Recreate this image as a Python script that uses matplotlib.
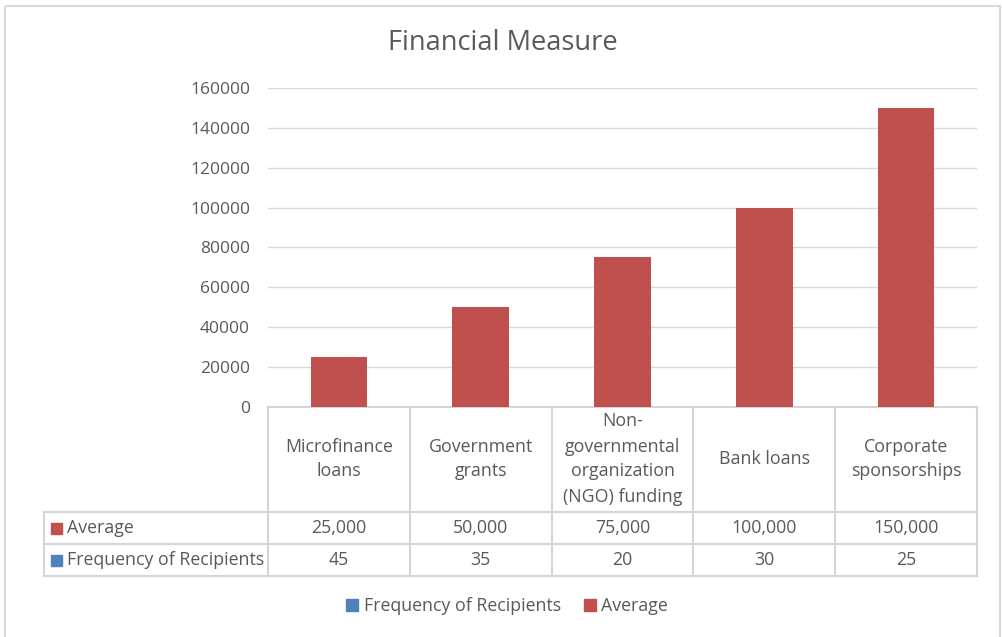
import matplotlib
matplotlib.use("Agg")
import matplotlib.pyplot as plt
from matplotlib.patches import Patch, Rectangle
from matplotlib import transforms

plt.rcParams['font.family'] = ['Open Sans', 'DejaVu Sans']

# ---- data ----
title = "Financial Measure"
categories = ["Microfinance\nloans", "Government\ngrants", "Non-\ngovernmental\norganization\n(NGO) funding",
              "Bank loans", "Corporate\nsponsorships"]
average = [25000, 50000, 75000, 100000, 150000]
frequency = [45, 35, 20, 30, 25]
series_names = ["Average", "Frequency of Recipients"]
yticks = [0, 20000, 40000, 60000, 80000, 100000, 120000, 140000, 160000]

RED = "#c0504d"
BLUE = "#4f81bd"
TXT = "#595959"
GRID = "#d9d9d9"
W, H = 1002, 637
FS = 12.8

fig = plt.figure(figsize=(W / 100, H / 100), dpi=100)

def fr(x0, y0, x1, y1):
    return [x0 / W, 1 - y1 / H, (x1 - x0) / W, (y1 - y0) / H]

# overlay in pixel coordinates
ov = fig.add_axes([0, 0, 1, 1], zorder=0)
ov.set_xlim(0, W)
ov.set_ylim(H, 0)
ov.axis("off")
ov.add_patch(Rectangle((5.5, 5.5), 995, 640, fill=False, edgecolor="#d9d9d9", lw=1.5))

# plot area
L, R, T, B = 268, 977, 88, 407
ax = fig.add_axes(fr(L, T, R, B), zorder=1)
ax.patch.set_alpha(0)
n = len(categories)
x = list(range(n))
ax.bar(x, average, width=0.4, color=RED, zorder=3)
ax.set_xlim(-0.5, n - 0.5)
ax.set_ylim(0, 160000)
ax.set_yticks(yticks)
ax.set_yticklabels([str(v) for v in yticks], fontsize=12.5, color=TXT)
ax.set_xticks([])
ax.tick_params(axis="y", length=0, pad=13)
for s in ax.spines.values():
    s.set_visible(False)
ax.grid(axis="y", color=GRID, lw=1, zorder=0)

# title
ov.text(503, 43, title, ha="center", va="center", fontsize=19.6, color=TXT)

# data table
col_edges = [L + (R - L) * i / n for i in range(n + 1)]
TL = 44
rows_y = [407, 512, 544, 576]
lc = "#d4d4d4"
ov.plot([L, R], [rows_y[0]] * 2, color=lc, lw=1.5)
for yy in rows_y[1:]:
    ov.plot([TL, R], [yy, yy], color=lc, lw=1.5)
for xx in col_edges:
    ov.plot([xx, xx], [rows_y[0], rows_y[-1]], color=lc, lw=1.5)
ov.plot([TL, TL], [rows_y[1], rows_y[-1]], color=lc, lw=1.5)

bt = transforms.blended_transform_factory(ax.transData, ov.transData)
for i, c in enumerate(categories):
    ov.text(i, 459, c, transform=bt, ha="center", va="center", fontsize=FS,
            color=TXT, linespacing=1.5)
    ov.text(i, 528, f"{average[i]:,}", transform=bt, ha="center", va="center",
            fontsize=FS, color=TXT)
    ov.text(i, 560, f"{frequency[i]}", transform=bt, ha="center", va="center",
            fontsize=FS, color=TXT)

for (yy, name, col) in [(528, series_names[0], RED), (560, series_names[1], BLUE)]:
    ov.add_patch(Rectangle((51, yy - 5.5), 11, 11, color=col))
    ov.text(67, yy, name, ha="left", va="center", fontsize=FS, color=TXT)

# legend
handles = [Patch(color=BLUE, label=series_names[1]), Patch(color=RED, label=series_names[0])]
fig.legend(handles=handles, loc="center", bbox_to_anchor=(507 / W, 1 - 606 / H), ncol=2,
           frameon=False, fontsize=FS, labelcolor=TXT, handlelength=0.68, handleheight=0.68,
           handletextpad=0.3, columnspacing=1.3)

fig.savefig("out.png", dpi=100)
